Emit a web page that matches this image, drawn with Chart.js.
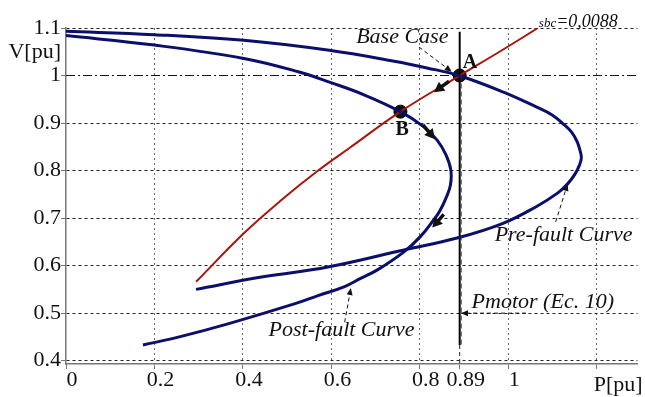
<!DOCTYPE html>
<html><head><meta charset="utf-8">
<script src="https://cdn.jsdelivr.net/npm/chart.js@4/dist/chart.umd.min.js"></script>
<style>html,body{margin:0;padding:0;background:#fff;}canvas{display:block;}</style>
</head><body>
<canvas id="c" width="645" height="397"></canvas>
<script>
// ---- data ----
const preFaultP  = [0.0, 0.200, 0.402, 0.595, 0.742, 0.816, 0.888, 0.989, 1.063, 1.099, 1.123, 1.143, 1.156, 1.163, 1.165, 1.161, 1.151, 1.134, 1.112, 1.063, 0.988, 0.884, 0.764, 0.592, 0.442, 0.294];
const preFaultV  = [1.093, 1.086, 1.074, 1.053, 1.030, 1.016, 1.000, 0.965, 0.934, 0.917, 0.899, 0.881, 0.860, 0.839, 0.826, 0.812, 0.793, 0.772, 0.753, 0.724, 0.689, 0.658, 0.633, 0.597, 0.576, 0.550];
const postFaultP = [0.0, 0.200, 0.402, 0.525, 0.599, 0.675, 0.756, 0.809, 0.839, 0.859, 0.870, 0.869, 0.859, 0.845, 0.831, 0.801, 0.764, 0.704, 0.666, 0.630, 0.570, 0.518, 0.368, 0.256, 0.174];
const postFaultV = [1.084, 1.064, 1.036, 1.008, 0.985, 0.959, 0.924, 0.892, 0.864, 0.833, 0.801, 0.769, 0.742, 0.715, 0.696, 0.661, 0.629, 0.591, 0.573, 0.556, 0.537, 0.520, 0.478, 0.450, 0.433];
const loadLineP  = [0.294, 0.402, 0.487, 0.570, 0.640, 0.756, 0.890, 0.980, 1.067];
const loadLineV  = [0.566, 0.668, 0.738, 0.800, 0.847, 0.924, 1.000, 1.050, 1.100];
const pmotorP    = 0.89;
const pmotorV    = [1.092, 0.433];
const opPointP   = [0.89, 0.756];
const opPointV   = [1.0, 0.924];
const opPointLbl = ['A', 'B'];
const xTicks     = [0, 0.2, 0.4, 0.6, 0.8, 0.89, 1, 1.2];
const xTickLbl   = ['0', '0.2', '0.4', '0.6', '0.8', '0.89', '1', ''];
const yTicks     = [0.4, 0.5, 0.6, 0.7, 0.8, 0.9, 1.0, 1.05, 1.1];
const yTickLbl   = ['0.4', '0.5', '0.6', '0.7', '0.8', '0.9', '1', 'V[pu]', '1.1'];
const xAxisTitle = 'P[pu]';
const slopeText  = ['sbc', '=0,0088'];
const labelTexts = { base: 'Base Case', pre: 'Pre-fault Curve', post: 'Post-fault Curve', pm: 'Pmotor (Ec. 10)' };

const pts = (P, V) => P.map((p, i) => ({ x: p, y: V[i] }));
const SERIF = '"Liberation Serif","DejaVu Serif",serif';
const NAVY = '#0b0f6c';
const RED = '#a8150c';

function arrowHead(ctx, x1, y1, x2, y2, len, half) {
  const a = Math.atan2(y2 - y1, x2 - x1);
  ctx.beginPath();
  ctx.moveTo(x2, y2);
  ctx.lineTo(x2 - len * Math.cos(a) + half * Math.sin(a), y2 - len * Math.sin(a) - half * Math.cos(a));
  ctx.lineTo(x2 - len * Math.cos(a) - half * Math.sin(a), y2 - len * Math.sin(a) + half * Math.cos(a));
  ctx.closePath();
  ctx.fill();
}

const annot = {
  id: 'annot',
  beforeDatasetsDraw(chart) {
    const { ctx, chartArea: a, scales: { y } } = chart;
    const yy = y.getPixelForValue(1.0);
    ctx.save();
    ctx.strokeStyle = '#111'; ctx.lineWidth = 1.2; ctx.setLineDash([9, 3, 2, 3]);
    ctx.beginPath(); ctx.moveTo(a.left, yy); ctx.lineTo(a.right, yy); ctx.stroke();
    ctx.restore();
  },
  afterDatasetsDraw(chart) {
    const { ctx, scales: { x, y } } = chart;
    const X = v => x.getPixelForValue(v), Y = v => y.getPixelForValue(v);
    ctx.save();
    ctx.fillStyle = '#111'; ctx.strokeStyle = '#111';
    const dashed = (p1, v1, p2, v2) => {
      const x1 = X(p1), y1 = Y(v1), x2 = X(p2), y2 = Y(v2);
      ctx.save(); ctx.lineWidth = 1; ctx.setLineDash([4, 3]);
      ctx.beginPath(); ctx.moveTo(x1, y1); ctx.lineTo(x2, y2); ctx.stroke();
      ctx.restore();
      arrowHead(ctx, x1, y1, x2, y2, 7, 3);
    };
    dashed(0.798, 1.060, 0.872, 1.008);
    dashed(1.107, 0.692, 1.134, 0.772);
    dashed(0.630, 0.481, 0.644, 0.553);
    dashed(1.040, 0.500, 0.893, 0.500);
    const bold = (p1, v1, p2, v2) => {
      const x1 = X(p1), y1 = Y(v1), x2 = X(p2), y2 = Y(v2);
      const a = Math.atan2(y2 - y1, x2 - x1);
      ctx.save(); ctx.lineWidth = 3.5; ctx.setLineDash([]);
      ctx.beginPath(); ctx.moveTo(x1, y1); ctx.lineTo(x2 - 6 * Math.cos(a), y2 - 6 * Math.sin(a)); ctx.stroke();
      ctx.restore();
      arrowHead(ctx, x1, y1, x2, y2, 10, 5.5);
    };
    bold(0.866, 0.988, 0.832, 0.965);
    bold(0.807, 0.896, 0.834, 0.866);
    bold(0.854, 0.708, 0.828, 0.680);
    // thin dashed trace alongside the Pmotor line
    ctx.save(); ctx.lineWidth = 1; ctx.setLineDash([5, 3]); ctx.strokeStyle = '#333';
    ctx.beginPath(); ctx.moveTo(X(pmotorP) + 1.5, Y(1.0)); ctx.lineTo(X(pmotorP) + 1.5, Y(0.433)); ctx.stroke();
    ctx.restore();
    ctx.textBaseline = 'middle'; ctx.textAlign = 'left';
    ctx.font = 'italic 22px ' + SERIF;
    ctx.fillText(labelTexts.base, X(0.656), Y(1.081));
    ctx.fillText(labelTexts.pre, X(0.969), Y(0.664));
    ctx.fillText(labelTexts.post, X(0.458), Y(0.464));
    ctx.fillText(labelTexts.pm, X(0.917), Y(0.523));
    ctx.font = 'bold 20px ' + SERIF;
    ctx.fillText(opPointLbl[0], X(0.897), Y(1.027));
    ctx.fillText(opPointLbl[1], X(0.745), Y(0.885));
    ctx.textBaseline = 'alphabetic';
    ctx.font = 'italic 13px ' + SERIF;
    const sx = X(1.069), sy = Y(1.1) - 1;
    ctx.fillText(slopeText[0], sx, sy);
    const w = ctx.measureText(slopeText[0]).width;
    ctx.font = 'italic 18px ' + SERIF;
    ctx.fillText(slopeText[1], sx + w, sy);
    ctx.font = '22px ' + SERIF;
    ctx.fillText(xAxisTitle, X(1.2) - 3, 391);
    ctx.restore();
  }
};

const line = (data, color, width) => ({
  data, showLine: true, borderColor: color, borderWidth: width, pointRadius: 0,
  tension: 0.4, fill: false
});

new Chart(document.getElementById('c'), {
  type: 'scatter',
  data: {
    datasets: [
      line(pts(preFaultP, preFaultV), NAVY, 3),
      line(pts(postFaultP, postFaultV), NAVY, 3),
      line(pts(loadLineP, loadLineV), RED, 2),
      Object.assign(line([{ x: pmotorP, y: pmotorV[0] }, { x: pmotorP, y: pmotorV[1] }], '#000', 2), { tension: 0 }),
      Object.assign(line([{ x: pmotorP, y: pmotorV[1] }, { x: pmotorP, y: 0.39 }], '#222', 1), { tension: 0, borderDash: [4, 3] }),
      { data: pts(opPointP, opPointV), pointRadius: 6.5, backgroundColor: '#111', borderColor: '#000', borderWidth: 1, showLine: false }
    ]
  },
  options: {
    responsive: false, animation: false, events: [],
    layout: { padding: { top: 28, right: 2, left: 0, bottom: 0 } },
    plugins: { legend: { display: false }, tooltip: { enabled: false } },
    scales: {
      x: {
        type: 'linear', min: 0, max: 1.292,
        afterBuildTicks: s => { s.ticks = xTicks.map(v => ({ value: v })); },
        afterFit: s => { s.height = 33; },
        ticks: {
          autoSkip: false, maxRotation: 0, padding: 0, labelOffset: 6, color: '#111',
          font: { family: SERIF, size: 22, lineHeight: 1 },
          callback: (v) => { const i = xTicks.indexOf(v); return i >= 0 ? xTickLbl[i] : ''; }
        },
        grid: {
          color: c => (c.tick && (c.tick.value === 0.89 || c.tick.value === 0)) ? 'rgba(0,0,0,0)' : '#666',
          lineWidth: 1, tickLength: 5, tickColor: '#777'
        },
        border: { display: true, color: '#777', width: 1.5, dash: [2, 3] }
      },
      y: {
        type: 'linear', min: 0.393, max: 1.1,
        afterBuildTicks: s => { s.ticks = yTicks.map(v => ({ value: v })); },
        afterFit: s => { s.width = 66; },
        ticks: {
          autoSkip: false, padding: 0, color: '#111',
          font: { family: SERIF, size: 22, lineHeight: 1 },
          callback: (v) => { const i = yTicks.indexOf(v); return i >= 0 ? yTickLbl[i] : ''; }
        },
        grid: {
          color: c => (c.tick && (c.tick.value === 1.05 || c.tick.value === 1.0)) ? 'rgba(0,0,0,0)' : '#222',
          lineWidth: 1, tickLength: 5,
          tickColor: c => (c.tick && c.tick.value === 1.05) ? 'rgba(0,0,0,0)' : '#777'
        },
        border: { display: true, color: '#777', width: 1.5, dash: [3, 3] }
      }
    }
  },
  plugins: [annot]
});
</script>
</body></html>
